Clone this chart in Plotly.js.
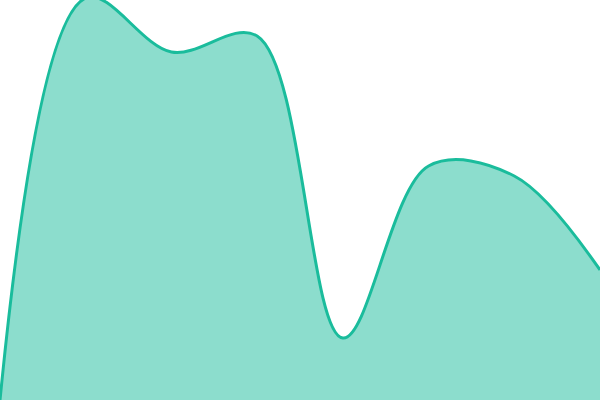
<!DOCTYPE html>
<html>
<head>
<meta charset="utf-8">
<script src="https://cdn.plot.ly/plotly-3.0.1.min.js"></script>
<style>
  html, body { margin: 0; padding: 0; background: #fff; }
  #chart { width: 600px; height: 400px; }
</style>
</head>
<body>
<div id="chart"></div>
<script>
const xs = [0, 1, 2, 3, 4, 5, 6, 7];
const values = [0, 100.5, 87, 91, 15.5, 58.5, 56, 32.5];

const trace = {
  x: xs,
  y: values,
  type: 'scatter',
  mode: 'lines',
  fill: 'tozeroy',
  fillcolor: 'rgba(26,188,156,0.5)',
  line: {color: '#1abc9c', width: 3, shape: 'spline', smoothing: 1},
  hoverinfo: 'none'
};

const layout = {
  width: 600,
  height: 400,
  showlegend: false,
  paper_bgcolor: '#fff',
  plot_bgcolor: '#fff',
  margin: {l: 0, r: 0, t: 0, b: 0},
  xaxis: {range: [0, 7], visible: false, fixedrange: true},
  yaxis: {range: [0, 100], visible: false, fixedrange: true}
};

Plotly.newPlot('chart', [trace], layout, {displayModeBar: false, staticPlot: true});
</script>
</body>
</html>
